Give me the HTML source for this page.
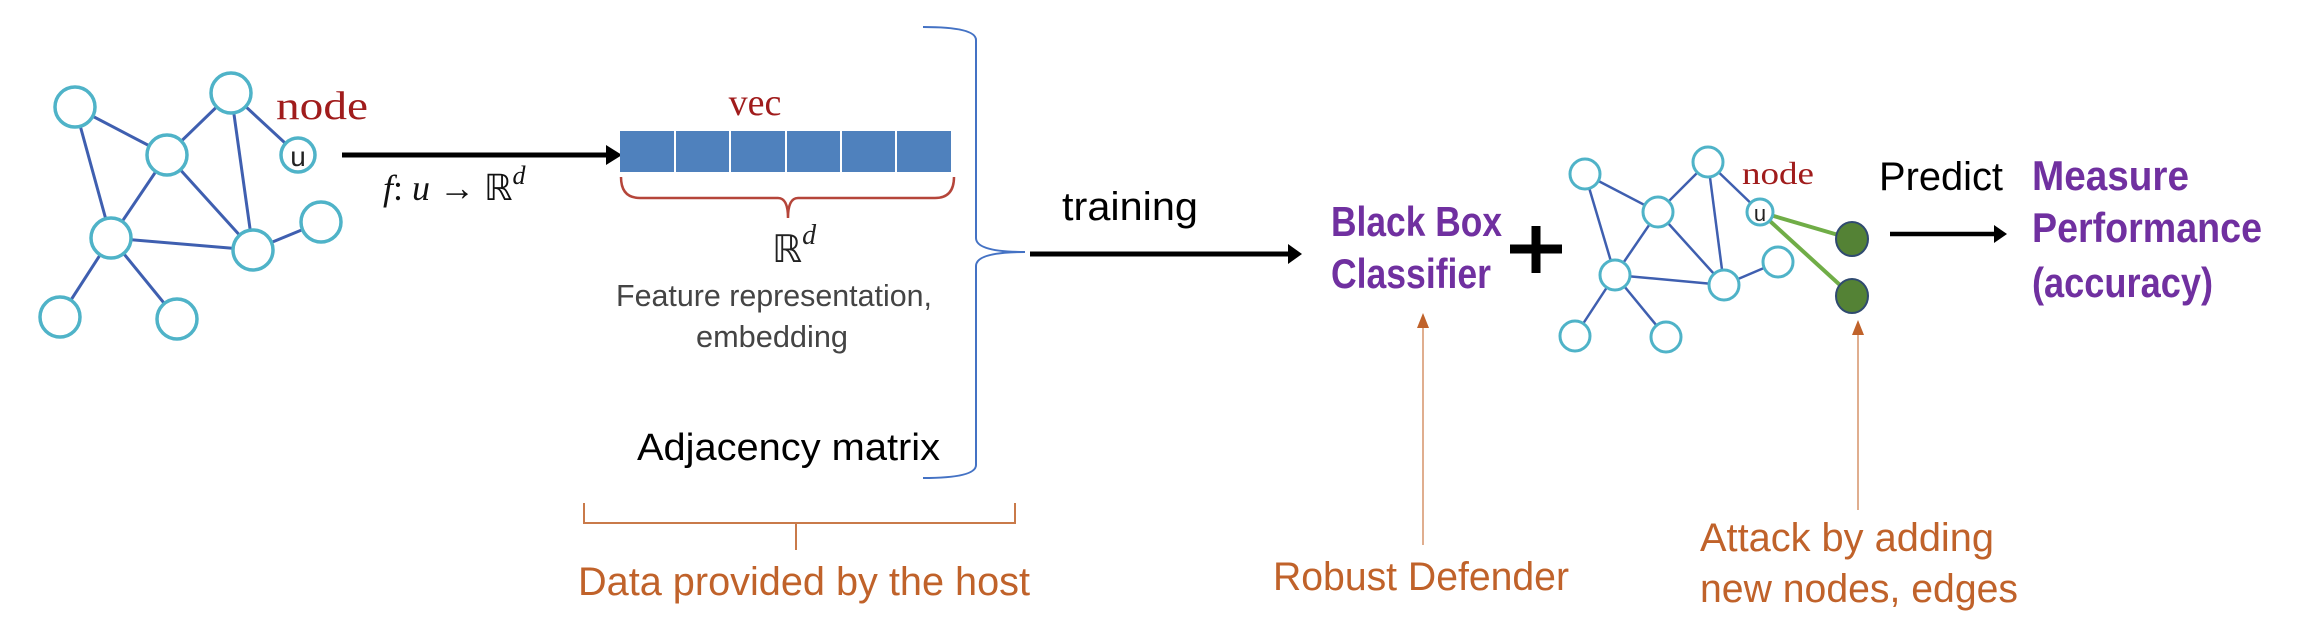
<!DOCTYPE html>
<html><head><meta charset="utf-8"><style>
html,body{margin:0;padding:0;background:#fff;}
svg{display:block;}
text{font-family:"Liberation Sans",sans-serif;}
</style></head><body>
<svg width="2298" height="630" viewBox="0 0 2298 630" xmlns="http://www.w3.org/2000/svg">
<!-- left graph -->
<g stroke="#3f5fb0" stroke-width="3">
<line x1="75" y1="107" x2="167" y2="155"/><line x1="231" y1="93" x2="167" y2="155"/>
<line x1="231" y1="93" x2="298" y2="155"/><line x1="231" y1="93" x2="253" y2="250"/>
<line x1="75" y1="107" x2="111" y2="238"/><line x1="167" y1="155" x2="111" y2="238"/>
<line x1="167" y1="155" x2="253" y2="250"/><line x1="111" y1="238" x2="253" y2="250"/>
<line x1="253" y1="250" x2="321" y2="222"/><line x1="111" y1="238" x2="60" y2="317"/>
<line x1="111" y1="238" x2="177" y2="319"/>
</g>
<g fill="#fff" stroke="#4fb3c8" stroke-width="3.5">
<circle cx="75" cy="107" r="20"/><circle cx="231" cy="93" r="20"/><circle cx="167" cy="155" r="20"/>
<circle cx="298" cy="155" r="17"/><circle cx="111" cy="238" r="20"/><circle cx="253" cy="250" r="20"/>
<circle cx="321" cy="222" r="20"/><circle cx="60" cy="317" r="20"/><circle cx="177" cy="319" r="20"/>
</g>
<text x="298" y="166" font-size="28" text-anchor="middle" fill="#222">u</text>
<text x="276" y="119" font-size="40" fill="#a01c1c" style="font-family:'Liberation Serif',serif" textLength="92" lengthAdjust="spacingAndGlyphs">node</text>
<line x1="342" y1="155" x2="612" y2="155" stroke="#000" stroke-width="5"/>
<path d="M606,145 L622,155 L606,165 Z" fill="#000"/>
<text x="383" y="200" font-size="36" fill="#111" style="font-family:'Liberation Serif',serif;font-style:italic">f<tspan font-style="normal">:</tspan> u <tspan font-style="normal">→ ℝ</tspan><tspan font-size="26" dy="-16">d</tspan></text>
<!-- vec -->
<text x="755" y="115" font-size="38" text-anchor="middle" fill="#a01c1c" style="font-family:'Liberation Serif',serif">vec</text>
<rect x="620" y="131" width="331" height="41" fill="#4f81bd"/>
<g stroke="#fff" stroke-width="2"><line x1="675" y1="131" x2="675" y2="172"/><line x1="730" y1="131" x2="730" y2="172"/><line x1="786" y1="131" x2="786" y2="172"/><line x1="841" y1="131" x2="841" y2="172"/><line x1="896" y1="131" x2="896" y2="172"/></g>
<path d="M621,177 Q621,198 640,198 L778,198 Q788,198 788,218 Q788,198 798,198 L935,198 Q954,198 954,177" fill="none" stroke="#b5453a" stroke-width="2.5"/>
<text x="772" y="262" font-size="38" fill="#222" style="font-family:'Liberation Serif',serif">ℝ<tspan font-size="28" dy="-18" font-style="italic">d</tspan></text>
<text x="616" y="306" font-size="31" fill="#444" textLength="316" lengthAdjust="spacingAndGlyphs">Feature representation,</text>
<text x="696" y="347" font-size="31" fill="#444" textLength="152" lengthAdjust="spacingAndGlyphs">embedding</text>
<text x="637" y="460" font-size="38" fill="#000" textLength="303" lengthAdjust="spacingAndGlyphs">Adjacency matrix</text>
<!-- blue bracket -->
<path d="M923,27 Q976,27 976,40 L976,238 Q976,252 1025,252 Q976,252 976,266 L976,465 Q976,478 923,478" fill="none" stroke="#4472c4" stroke-width="2"/>
<!-- orange brace -->
<path d="M584,503 L584,523 L796,523 L796,550 M796,523 L1015,523 L1015,503" fill="none" stroke="#c97a4a" stroke-width="2"/>
<text x="578" y="595" font-size="40" fill="#c0622a" textLength="452" lengthAdjust="spacingAndGlyphs">Data provided by the host</text>
<!-- training -->
<line x1="1030" y1="254" x2="1292" y2="254" stroke="#000" stroke-width="5"/>
<path d="M1288,244 L1302,254 L1288,264 Z" fill="#000"/>
<text x="1062" y="220" font-size="40" fill="#000" textLength="136" lengthAdjust="spacingAndGlyphs">training</text>
<text x="1331" y="236" font-size="42" font-weight="bold" fill="#7030a0" textLength="171" lengthAdjust="spacingAndGlyphs">Black Box</text>
<text x="1331" y="288" font-size="42" font-weight="bold" fill="#7030a0" textLength="160" lengthAdjust="spacingAndGlyphs">Classifier</text>
<!-- plus -->
<path d="M1536,226 L1536,273 M1510,249 L1562,249" stroke="#000" stroke-width="9"/>
<!-- right graph -->
<g stroke="#3f5fb0" stroke-width="2.5">
<line x1="1585" y1="174" x2="1658" y2="212"/><line x1="1708" y1="162" x2="1658" y2="212"/>
<line x1="1708" y1="162" x2="1760" y2="212"/><line x1="1708" y1="162" x2="1724" y2="285"/>
<line x1="1585" y1="174" x2="1615" y2="275"/><line x1="1658" y1="212" x2="1615" y2="275"/>
<line x1="1658" y1="212" x2="1724" y2="285"/><line x1="1615" y1="275" x2="1724" y2="285"/>
<line x1="1724" y1="285" x2="1778" y2="262"/><line x1="1615" y1="275" x2="1575" y2="336"/>
<line x1="1615" y1="275" x2="1666" y2="337"/>
</g>
<g stroke="#70ad47" stroke-width="4"><line x1="1760" y1="212" x2="1852" y2="239"/><line x1="1760" y1="212" x2="1852" y2="296"/></g>
<g fill="#fff" stroke="#4fb3c8" stroke-width="3">
<circle cx="1585" cy="174" r="15"/><circle cx="1708" cy="162" r="15"/><circle cx="1658" cy="212" r="15"/>
<circle cx="1760" cy="212" r="13"/><circle cx="1615" cy="275" r="15"/><circle cx="1724" cy="285" r="15"/>
<circle cx="1778" cy="262" r="15"/><circle cx="1575" cy="336" r="15"/><circle cx="1666" cy="337" r="15"/>
</g>
<text x="1760" y="221" font-size="22" text-anchor="middle" fill="#222">u</text>
<g fill="#548235" stroke="#2f4a70" stroke-width="2"><ellipse cx="1852" cy="239" rx="16" ry="17"/><ellipse cx="1852" cy="296" rx="16" ry="17"/></g>
<text x="1742" y="184" font-size="32" fill="#a01c1c" style="font-family:'Liberation Serif',serif" textLength="72" lengthAdjust="spacingAndGlyphs">node</text>
<text x="1879" y="190" font-size="40" fill="#000" textLength="124" lengthAdjust="spacingAndGlyphs">Predict</text>
<line x1="1890" y1="234" x2="1998" y2="234" stroke="#000" stroke-width="4.5"/>
<path d="M1994,225 L2007,234 L1994,243 Z" fill="#000"/>
<text x="2032" y="190" font-size="42" font-weight="bold" fill="#7030a0" textLength="157" lengthAdjust="spacingAndGlyphs">Measure</text>
<text x="2032" y="242" font-size="42" font-weight="bold" fill="#7030a0" textLength="230" lengthAdjust="spacingAndGlyphs">Performance</text>
<text x="2032" y="297" font-size="42" font-weight="bold" fill="#7030a0" textLength="181" lengthAdjust="spacingAndGlyphs">(accuracy)</text>
<!-- orange arrows -->
<line x1="1423" y1="545" x2="1423" y2="325" stroke="#d6946a" stroke-width="1.5"/>
<path d="M1417,328 L1423,313 L1429,328 Z" fill="#c0622a"/>
<line x1="1858" y1="510" x2="1858" y2="332" stroke="#d6946a" stroke-width="1.5"/>
<path d="M1852,335 L1858,320 L1864,335 Z" fill="#c0622a"/>
<text x="1273" y="590" font-size="40" fill="#c0622a" textLength="296" lengthAdjust="spacingAndGlyphs">Robust Defender</text>
<text x="1700" y="551" font-size="40" fill="#c0622a" textLength="294" lengthAdjust="spacingAndGlyphs">Attack by adding</text>
<text x="1700" y="602" font-size="40" fill="#c0622a" textLength="318" lengthAdjust="spacingAndGlyphs">new nodes, edges</text>
</svg>
</body></html>
